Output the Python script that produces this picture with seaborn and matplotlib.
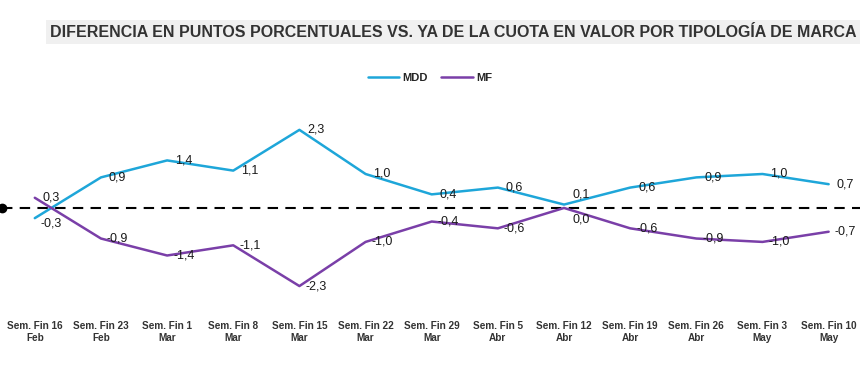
import seaborn as sns
import pandas as pd
import numpy as np
import matplotlib.pyplot as plt

# datos
semanas = ["Sem. Fin 16\nFeb", "Sem. Fin 23\nFeb", "Sem. Fin 1\nMar", "Sem. Fin 8\nMar",
           "Sem. Fin 15\nMar", "Sem. Fin 22\nMar", "Sem. Fin 29\nMar", "Sem. Fin 5\nAbr",
           "Sem. Fin 12\nAbr", "Sem. Fin 19\nAbr", "Sem. Fin 26\nAbr", "Sem. Fin 3\nMay",
           "Sem. Fin 10\nMay"]
mdd = [-0.3, 0.9, 1.4, 1.1, 2.3, 1.0, 0.4, 0.6, 0.1, 0.6, 0.9, 1.0, 0.7]
mf = [0.3, -0.9, -1.4, -1.1, -2.3, -1.0, -0.4, -0.6, 0.0, -0.6, -0.9, -1.0, -0.7]
titulo = "DIFERENCIA EN PUNTOS PORCENTUALES VS. YA DE LA CUOTA EN VALOR POR TIPOLOGÍA DE MARCA"

sns.set_theme(style="white")
plt.rcParams['font.family'] = ['Liberation Sans', 'DejaVu Sans']

df = pd.DataFrame({
    'pos': list(range(len(semanas))) * 2,
    'valor': mdd + mf,
    'serie': ['MDD'] * len(mdd) + ['MF'] * len(mf),
})
colores = {'MDD': '#1ea6d9', 'MF': '#7a3fa8'}

fig = plt.figure(figsize=(8.6, 3.82), dpi=100)
ax = fig.add_axes([0.002, 0.2147, 1.0, 0.5236])

# linea de referencia en cero
ax.axhline(0, color='black', lw=1.5, ls=(0, (5, 3.5)), marker='o', markersize=6,
           markevery=[0], zorder=1, clip_on=False)

sns.lineplot(data=df, x='pos', y='valor', hue='serie', palette=colores, lw=1.8,
             ax=ax, legend=False, zorder=3)

# etiquetas de datos
def fmt(v):
    return f"{v:.1f}".replace('.', ',')

for serie, vals in [('MDD', mdd), ('MF', mf)]:
    for i, v in enumerate(vals):
        dy = 0
        if i == 8:
            dy = 7 if serie == 'MDD' else -8
        if i == 0 and serie == 'MDD':
            dy = -4
        ax.annotate(fmt(v), (i, v), xytext=(12, dy), textcoords='offset points',
                    ha='center', va='center', fontsize=9, color='#1a1a1a',
                    annotation_clip=False)

ax.set_xlim(-0.5, 12.5)
ax.set_ylim(-2.71, 3.18)
ax.set_xticks(range(len(semanas)))
ax.set_xticklabels(semanas, fontsize=7.2, fontweight='bold', color='#333333', linespacing=1.3)
ax.set_yticks([])
ax.tick_params(axis='x', length=0, pad=15)
ax.set_xlabel('')
ax.set_ylabel('')
for s in ax.spines.values():
    s.set_visible(False)

# leyenda
handles = [plt.Line2D([], [], color=colores[k], lw=1.8) for k in ['MDD', 'MF']]
fig.legend(handles, ['MDD', 'MF'], loc='center', bbox_to_anchor=(0.5, 0.796), ncol=2,
           frameon=False, handlelength=2.8, handletextpad=0.3, columnspacing=1.2,
           prop={'size': 8, 'weight': 'bold'})

fig.text(0.527, 0.916, titulo, ha='center', va='center', fontsize=11.5, fontweight='bold',
         color='#333333',
         bbox=dict(facecolor='#f0f0f0', edgecolor='none', pad=3))

plt.savefig('out.png', dpi=100)
